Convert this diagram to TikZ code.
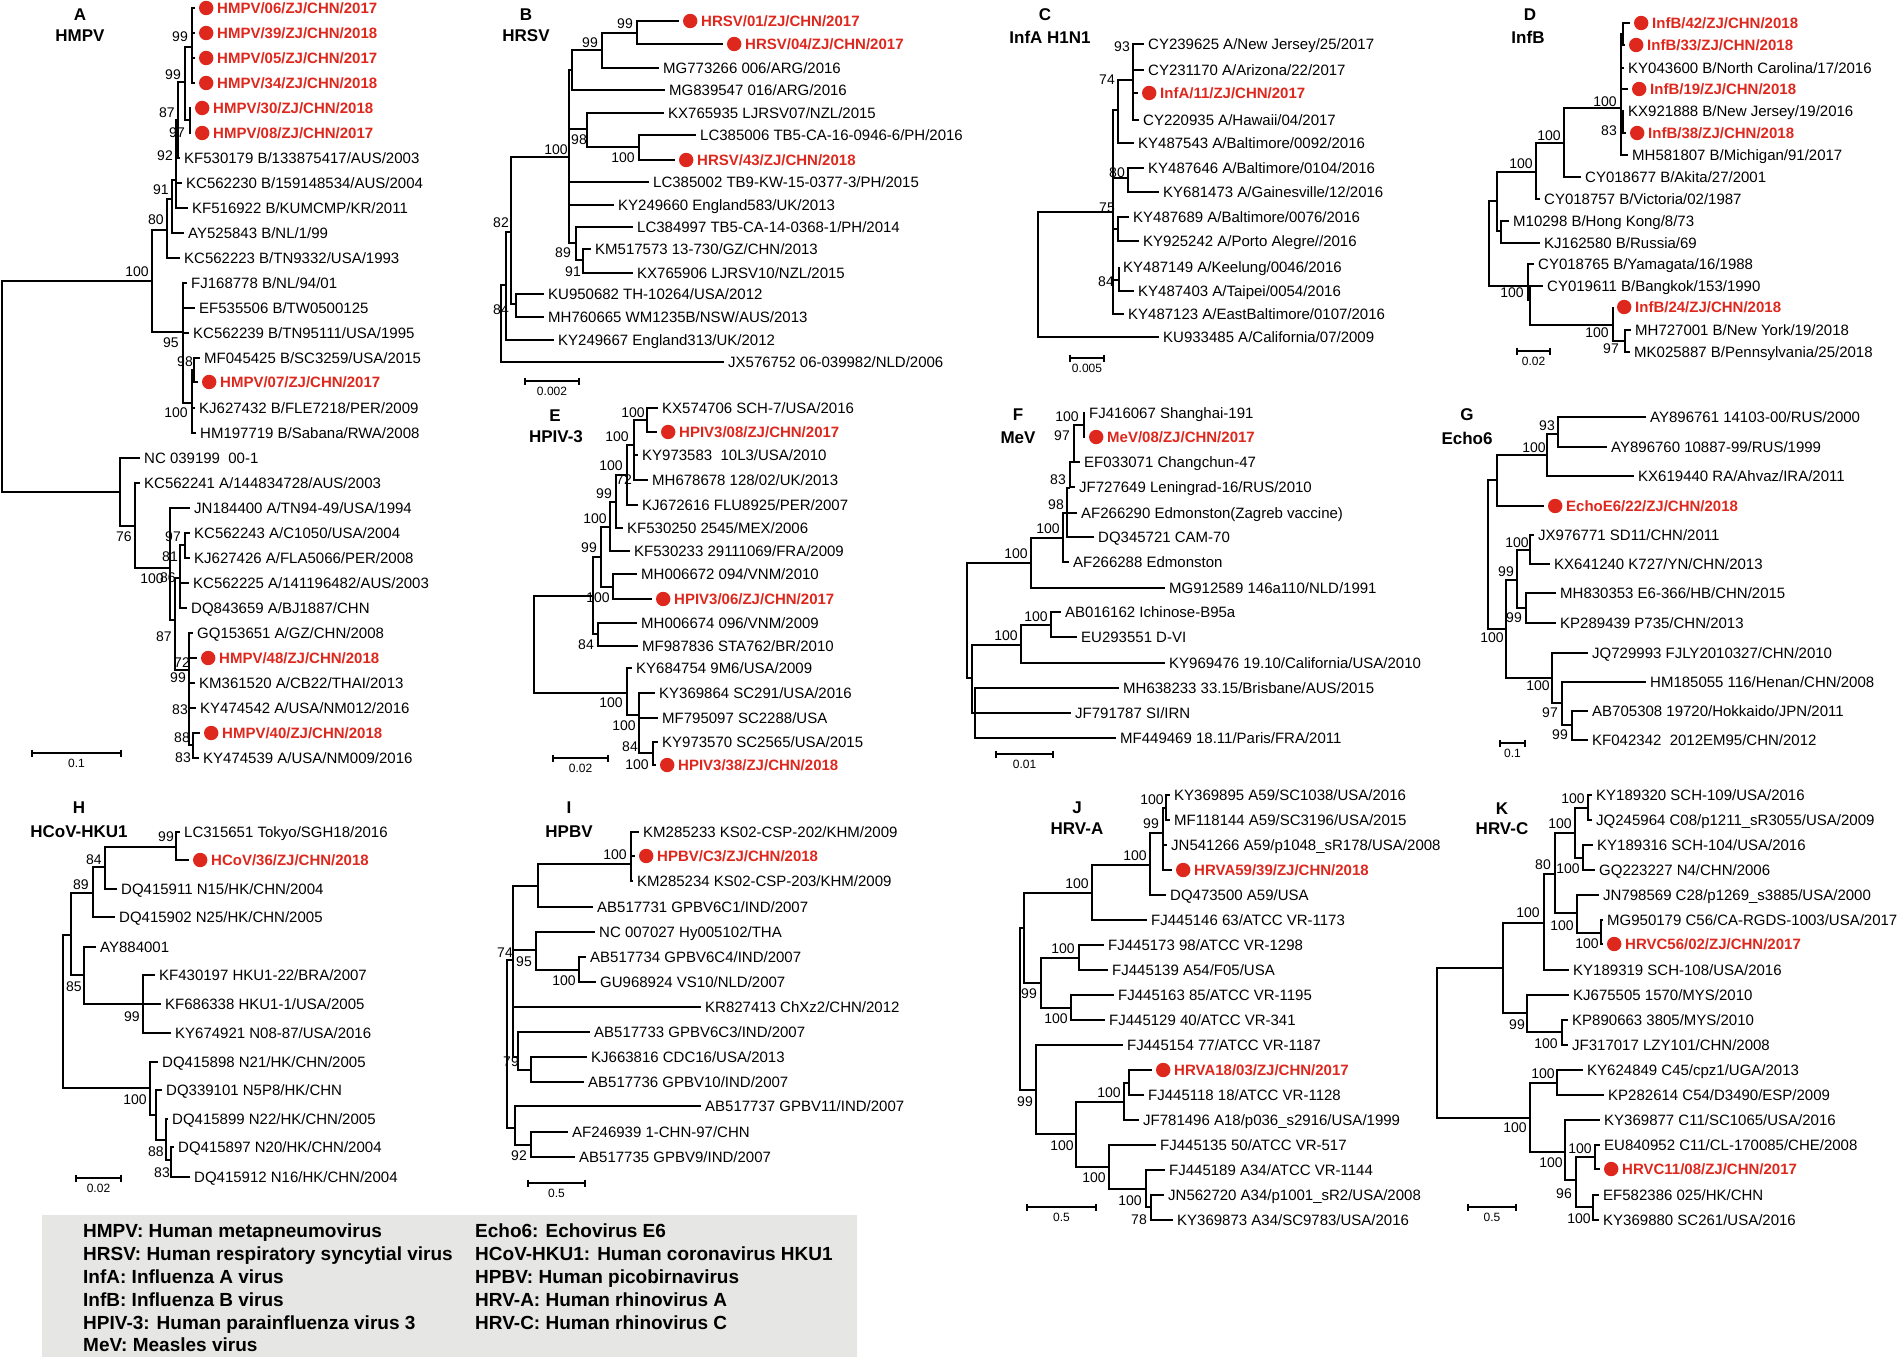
\documentclass[tikz,border=0pt]{standalone}
\usepackage{fontspec}
\setmainfont{Liberation Sans}
\usetikzlibrary{calc}
\definecolor{rd}{RGB}{222,40,30}
\definecolor{leggray}{RGB}{230,230,228}
\newcounter{bsc}
\tikzset{
 br/.style={line width=1.4pt},
 leaf/.style={anchor=west, inner xsep=4pt, inner ysep=0pt, text height=10.8pt, text depth=0pt, font=\fontsize{15}{18}\selectfont},
 rleaf/.style={leaf, text=rd, font=\fontsize{15}{18}\selectfont\bfseries},
 rdot/.style={fill=rd},
 bs/.style={inner sep=0pt, font=\fontsize{14}{16}\selectfont},
 ttl/.style={inner sep=0pt, font=\fontsize{17}{20}\selectfont\bfseries},
 sbar/.style={line width=1.2pt},
 sbl/.style={inner sep=0pt, font=\fontsize{12}{14}\selectfont},
 legt/.style={anchor=west, inner sep=0pt, text height=13.6pt, text depth=0pt, font=\fontsize{19}{22}\selectfont\bfseries},
}
\newcommand\Lf[3]{\node[leaf] (#1) at (#2) {#3};}
\newcommand\Rf[3]{\node[rleaf] (#1) at (#2) {\hspace*{18pt}#3};\fill[rdot] ([xshift=11.2pt]#1.west) circle (7.2pt);}
\newcommand\Cn[2]{\coordinate (#1) at (#2);}
\newcommand\Tr[2]{\foreach \ch in {#2}{\draw[br] (#1) |- (\ch);}}
\newcommand\Bs[2]{\stepcounter{bsc}\node[bs] (bs\arabic{bsc}) at (#1) {#2};}
\newcommand\SB[4]{\coordinate (#1l) at (#2);\coordinate (#1r) at (#3);
 \draw[sbar] ([yshift=3.5pt]#1l) -- ([yshift=-3.5pt]#1l) (#1l) -- (#1r) ([yshift=3.5pt]#1r) -- ([yshift=-3.5pt]#1r);
 \node[sbl] (#1t) at ($(#1l)!0.5!(#1r)+(0,10)$) {#4};}
\begin{document}
\begin{tikzpicture}[x=1pt,y=-1pt]
\fill[white] (0,0) rectangle (1900,1357);
\useasboundingbox (0,0) rectangle (1900,1357);

% ================= A
\node[ttl] (tA) at (80,15) {A};
\node[ttl] (tA2) at (80,36) {HMPV};
\Rf{a1}{195,8}{HMPV/06/ZJ/CHN/2017}
\Rf{a2}{195,33}{HMPV/39/ZJ/CHN/2018}
\Rf{a3}{195,58}{HMPV/05/ZJ/CHN/2017}
\Rf{a4}{195,83}{HMPV/34/ZJ/CHN/2018}
\Rf{a5}{191,108}{HMPV/30/ZJ/CHN/2018}
\Rf{a6}{191,133}{HMPV/08/ZJ/CHN/2017}
\Lf{a7}{180,158}{KF530179 B/133875417/AUS/2003}
\Lf{a8}{182,183}{KC562230 B/159148534/AUS/2004}
\Lf{a9}{188,208}{KF516922 B/KUMCMP/KR/2011}
\Lf{a10}{184,233}{AY525843 B/NL/1/99}
\Lf{a11}{180,258}{KC562223 B/TN9332/USA/1993}
\Lf{a12}{187,283}{FJ168778 B/NL/94/01}
\Lf{a13}{195,308}{EF535506 B/TW0500125}
\Lf{a14}{189,333}{KC562239 B/TN95111/USA/1995}
\Lf{a15}{200,358}{MF045425 B/SC3259/USA/2015}
\Rf{a16}{198,382}{HMPV/07/ZJ/CHN/2017}
\Lf{a17}{195,408}{KJ627432 B/FLE7218/PER/2009}
\Lf{a18}{196,433}{HM197719 B/Sabana/RWA/2008}
\Lf{a19}{140,458}{NC 039199\ \ 00-1}
\Lf{a20}{140,483}{KC562241 A/144834728/AUS/2003}
\Lf{a21}{190,508}{JN184400 A/TN94-49/USA/1994}
\Lf{a22}{190,533}{KC562243 A/C1050/USA/2004}
\Lf{a23}{190,558}{KJ627426 A/FLA5066/PER/2008}
\Lf{a24}{189,583}{KC562225 A/141196482/AUS/2003}
\Lf{a25}{187,608}{DQ843659 A/BJ1887/CHN}
\Lf{a26}{193,633}{GQ153651 A/GZ/CHN/2008}
\Rf{a27}{197,658}{HMPV/48/ZJ/CHN/2018}
\Lf{a28}{195,683}{KM361520 A/CB22/THAI/2013}
\Lf{a29}{196,708}{KY474542 A/USA/NM012/2016}
\Rf{a30}{200,733}{HMPV/40/ZJ/CHN/2018}
\Lf{a31}{199,758}{KY474539 A/USA/NM009/2016}
\Cn{aR}{2,386}\Cn{aU}{152,281}\Cn{a80}{167,230}\Cn{a91}{172,199}\Cn{a92}{176,180}
\Cn{a87}{178,120}\Cn{a99b}{185,82}\Cn{a99a}{192,47}\Cn{a97}{190,120}\Cn{a95}{183,332}
\Cn{a100b}{192,403}\Cn{a98}{194,370}\Cn{aL}{120,492}\Cn{aL2}{135,526}\Cn{aL3}{170,568}
\Cn{aX}{175,620}\Cn{a86}{180,578}\Cn{a97b}{185,545}\Cn{a72}{189,670}\Cn{a88}{193,745}
\Tr{aR}{aU,aL}\Tr{aU}{a80,a95}\Tr{a80}{a91,a11}\Tr{a91}{a92,a10}\Tr{a92}{a87,a8,a9}
\Tr{a87}{a99b,a7}\Tr{a99b}{a99a,a97}\Tr{a99a}{a1,a2,a3,a4}\Tr{a97}{a5,a6}
\Tr{a95}{a12,a13,a14,a100b}\Tr{a100b}{a98,a17,a18}\Tr{a98}{a15,a16}
\Tr{aL}{a19,aL2}\Tr{aL2}{a20,aL3}\Tr{aL3}{a21,aX}\Tr{aX}{a86,a72}
\Tr{a86}{a97b,a24,a25}\Tr{a97b}{a22,a23}\Tr{a72}{a26,a27,a28,a29,a88}\Tr{a88}{a30,a31}
\Bs{180,37}{99}\Bs{173,75}{99}\Bs{167,113}{87}\Bs{177,133}{97}\Bs{165,156}{92}
\Bs{161,190}{91}\Bs{156,220}{80}\Bs{137,272}{100}\Bs{171,343}{95}\Bs{185,362}{98}
\Bs{176,413}{100}\Bs{124,537}{76}\Bs{173,537}{97}\Bs{170,557}{81}\Bs{152,579}{100}
\Bs{168,578}{86}\Bs{164,637}{87}\Bs{182,663}{72}\Bs{178,678}{99}\Bs{180,710}{83}
\Bs{182,738}{88}\Bs{183,758}{83}
\SB{sA}{32,753}{121,753}{0.1}

% ================= B
\node[ttl] (tB) at (526,15) {B};
\node[ttl] (tB2) at (526,36) {HRSV};
\Rf{b1}{679,21}{HRSV/01/ZJ/CHN/2017}
\Rf{b2}{723,44}{HRSV/04/ZJ/CHN/2017}
\Lf{b3}{659,68}{MG773266 006/ARG/2016}
\Lf{b4}{665,90}{MG839547 016/ARG/2016}
\Lf{b5}{664,113}{KX765935 LJRSV07/NZL/2015}
\Lf{b6}{696,135}{LC385006 TB5-CA-16-0946-6/PH/2016}
\Rf{b7}{675,160}{HRSV/43/ZJ/CHN/2018}
\Lf{b8}{649,182}{LC385002 TB9-KW-15-0377-3/PH/2015}
\Lf{b9}{614,205}{KY249660 England583/UK/2013}
\Lf{b10}{633,227}{LC384997 TB5-CA-14-0368-1/PH/2014}
\Lf{b11}{591,249}{KM517573 13-730/GZ/CHN/2013}
\Lf{b12}{633,273}{KX765906 LJRSV10/NZL/2015}
\Lf{b13}{544,294}{KU950682 TH-10264/USA/2012}
\Lf{b14}{544,317}{MH760665 WM1235B/NSW/AUS/2013}
\Lf{b15}{554,340}{KY249667 England313/UK/2012}
\Lf{b16}{724,362}{JX576752 06-039982/NLD/2006}
\Cn{bR}{501,324}\Cn{b84}{506,285}\Cn{b82}{511,232}\Cn{bKU}{516,304}\Cn{b100}{569,157}
\Cn{bA}{572,70}\Cn{b99}{602,50}\Cn{b99a}{637,33}\Cn{b98}{587,129}\Cn{b100b}{639,147}
\Cn{b89}{576,243}\Cn{b91}{583,260}
\Tr{bR}{b84,b16}\Tr{b84}{b82,b15}\Tr{b82}{b100,bKU}\Tr{bKU}{b13,b14}
\Tr{b100}{bA,b98,b8,b9,b89}\Tr{bA}{b99,b4}\Tr{b99}{b99a,b3}\Tr{b99a}{b1,b2}
\Tr{b98}{b5,b100b}\Tr{b100b}{b6,b7}\Tr{b89}{b10,b91}\Tr{b91}{b11,b12}
\Bs{625,24}{99}\Bs{590,43}{99}\Bs{556,150}{100}\Bs{579,140}{98}\Bs{623,158}{100}
\Bs{563,253}{89}\Bs{573,272}{91}\Bs{501,223}{82}\Bs{501,310}{84}
\SB{sB}{525,381}{579,381}{0.002}

% ================= C
\node[ttl] (tC) at (1045,15) {C};
\node[ttl] (tC2) at (1050,37) {InfA H1N1};
\Lf{c1}{1144,44}{CY239625 A/New Jersey/25/2017}
\Lf{c2}{1144,70}{CY231170 A/Arizona/22/2017}
\Rf{c3}{1138,93}{InfA/11/ZJ/CHN/2017}
\Lf{c4}{1139,120}{CY220935 A/Hawaii/04/2017}
\Lf{c5}{1134,143}{KY487543 A/Baltimore/0092/2016}
\Lf{c6}{1144,168}{KY487646 A/Baltimore/0104/2016}
\Lf{c7}{1159,192}{KY681473 A/Gainesville/12/2016}
\Lf{c8}{1129,217}{KY487689 A/Baltimore/0076/2016}
\Lf{c9}{1139,241}{KY925242 A/Porto Alegre//2016}
\Lf{c10}{1119,267}{KY487149 A/Keelung/0046/2016}
\Lf{c11}{1134,291}{KY487403 A/Taipei/0054/2016}
\Lf{c12}{1124,314}{KY487123 A/EastBaltimore/0107/2016}
\Lf{c13}{1159,337}{KU933485 A/California/07/2009}
\Cn{cR}{1038,275}\Cn{cA}{1113,212}\Cn{c74}{1118,110}\Cn{c93}{1133,80}
\Cn{c80}{1128,178}\Cn{cB}{1118,229}\Cn{c84}{1119,280}
\Tr{cR}{cA,c13}\Tr{cA}{c74,c80,cB,c84,c12}\Tr{c74}{c93,c5}\Tr{c93}{c1,c2,c3,c4}
\Tr{c80}{c6,c7}\Tr{cB}{c8,c9}\Tr{c84}{c10,c11}
\Bs{1122,47}{93}\Bs{1107,80}{74}\Bs{1117,173}{80}\Bs{1107,208}{75}\Bs{1106,282}{84}
\SB{sC}{1070,358}{1104,358}{0.005}

% ================= D
\node[ttl] (tD) at (1530,15) {D};
\node[ttl] (tD2) at (1528,37) {InfB};
\Rf{d1}{1630,23}{InfB/42/ZJ/CHN/2018}
\Rf{d2}{1625,45}{InfB/33/ZJ/CHN/2018}
\Lf{d3}{1624,68}{KY043600 B/North Carolina/17/2016}
\Rf{d4}{1628,89}{InfB/19/ZJ/CHN/2018}
\Lf{d5}{1624,111}{KX921888 B/New Jersey/19/2016}
\Rf{d6}{1626,133}{InfB/38/ZJ/CHN/2018}
\Lf{d7}{1628,155}{MH581807 B/Michigan/91/2017}
\Lf{d8}{1581,177}{CY018677 B/Akita/27/2001}
\Lf{d9}{1540,199}{CY018757 B/Victoria/02/1987}
\Lf{d10}{1509,221}{M10298 B/Hong Kong/8/73}
\Lf{d11}{1540,243}{KJ162580 B/Russia/69}
\Lf{d12}{1534,264}{CY018765 B/Yamagata/16/1988}
\Lf{d13}{1543,286}{CY019611 B/Bangkok/153/1990}
\Rf{d14}{1613,307}{InfB/24/ZJ/CHN/2018}
\Lf{d15}{1631,330}{MH727001 B/New York/19/2018}
\Lf{d16}{1630,352}{MK025887 B/Pennsylvania/25/2018}
\Cn{dR}{1489,250}\Cn{dA}{1497,201}\Cn{dHK}{1501,231}\Cn{d100a}{1536,172}
\Cn{d100b}{1564,143}\Cn{d100c}{1621,108}\Cn{d1g}{1623,34}\Cn{d83}{1623,122}
\Cn{dB}{1528,286}\Cn{dB2}{1530,300}\Cn{d100d}{1613,325}\Cn{d97}{1625,341}
\Tr{dR}{dA,dB}\Tr{dA}{d100a,dHK}\Tr{dHK}{d10,d11}\Tr{d100a}{d100b,d9}
\Tr{d100b}{d100c,d8}\Tr{d100c}{d1g,d3,d4,d83,d7}\Tr{d1g}{d1,d2}\Tr{d83}{d5,d6}
\Tr{dB}{d12,dB2}\Tr{dB2}{d13,d100d}\Tr{d100d}{d14,d97}\Tr{d97}{d15,d16}
\Bs{1605,102}{100}\Bs{1609,131}{83}\Bs{1549,136}{100}\Bs{1521,164}{100}
\Bs{1512,293}{100}\Bs{1597,333}{100}\Bs{1611,349}{97}
\SB{sD}{1517,351}{1550,351}{0.02}

% ================= E
\node[ttl] (tE) at (555,416) {E};
\node[ttl] (tE2) at (556,437) {HPIV-3};
\Lf{e1}{658,408}{KX574706 SCH-7/USA/2016}
\Rf{e2}{657,432}{HPIV3/08/ZJ/CHN/2017}
\Lf{e3}{638,455}{KY973583\ \ 10L3/USA/2010}
\Lf{e4}{648,480}{MH678678 128/02/UK/2013}
\Lf{e5}{638,505}{KJ672616 FLU8925/PER/2007}
\Lf{e6}{623,528}{KF530250 2545/MEX/2006}
\Lf{e7}{630,551}{KF530233 29111069/FRA/2009}
\Lf{e8}{637,574}{MH006672 094/VNM/2010}
\Rf{e9}{652,599}{HPIV3/06/ZJ/CHN/2017}
\Lf{e10}{637,623}{MH006674 096/VNM/2009}
\Lf{e11}{638,646}{MF987836 STA762/BR/2010}
\Lf{e12}{632,668}{KY684754 9M6/USA/2009}
\Lf{e13}{655,693}{KY369864 SC291/USA/2016}
\Lf{e14}{658,718}{MF795097 SC2288/USA}
\Lf{e15}{658,742}{KY973570 SC2565/USA/2015}
\Rf{e16}{656,765}{HPIV3/38/ZJ/CHN/2018}
\Cn{eR}{534,645}\Cn{eA}{593,596}\Cn{eC}{601,557}\Cn{eD}{610,527}\Cn{eE}{616,502}
\Cn{eF}{627,475}\Cn{eG}{634,445}\Cn{eH}{647,420}\Cn{e100c}{613,587}\Cn{e84}{598,634}
\Cn{eB}{627,693}\Cn{eI}{639,715}\Cn{e84b}{653,753}
\Tr{eR}{eA,eB}\Tr{eA}{eC,e84}\Tr{eC}{eD,e100c}\Tr{eD}{eE,e7}\Tr{eE}{eF,e6}
\Tr{eF}{eG,e5}\Tr{eG}{eH,e3,e4}\Tr{eH}{e1,e2}\Tr{e100c}{e8,e9}\Tr{e84}{e10,e11}
\Tr{eB}{e12,eI}\Tr{eI}{e13,e14,e84b}\Tr{e84b}{e15,e16}
\Bs{633,413}{100}\Bs{617,437}{100}\Bs{611,466}{100}\Bs{624,480}{72}\Bs{604,494}{99}
\Bs{595,519}{100}\Bs{589,548}{99}\Bs{598,598}{100}\Bs{586,645}{84}\Bs{611,703}{100}
\Bs{624,726}{100}\Bs{630,747}{84}\Bs{637,765}{100}
\SB{sE}{553,758}{608,758}{0.02}

% ================= F
\node[ttl] (tF) at (1018,415) {F};
\node[ttl] (tF2) at (1018,438) {MeV};
\Lf{f1}{1085,413}{FJ416067 Shanghai-191}
\Rf{f2}{1085,437}{MeV/08/ZJ/CHN/2017}
\Lf{f3}{1080,462}{EF033071 Changchun-47}
\Lf{f4}{1075,487}{JF727649 Leningrad-16/RUS/2010}
\Lf{f5}{1077,513}{AF266290 Edmonston(Zagreb vaccine)}
\Lf{f6}{1094,537}{DQ345721 CAM-70}
\Lf{f7}{1069,562}{AF266288 Edmonston}
\Lf{f8}{1165,588}{MG912589 146a110/NLD/1991}
\Lf{f9}{1061,612}{AB016162 Ichinose-B95a}
\Lf{f10}{1077,637}{EU293551 D-VI}
\Lf{f11}{1165,663}{KY969476 19.10/California/USA/2010}
\Lf{f12}{1119,688}{MH638233 33.15/Brisbane/AUS/2015}
\Lf{f13}{1071,713}{JF791787 SI/IRN}
\Lf{f14}{1116,738}{MF449469 18.11/Paris/FRA/2011}
\Cn{fR}{967,620}\Cn{fA}{1031,563}\Cn{fC}{1063,538}\Cn{fD}{1067,513}\Cn{fE}{1070,488}
\Cn{fF}{1074,462}\Cn{f100}{1084,425}\Cn{fB}{972,678}\Cn{fG}{1021,645}\Cn{fI}{1051,625}
\Cn{fH}{975,713}
\Tr{fR}{fA,fB}\Tr{fA}{fC,f8}\Tr{fC}{fD,f7}\Tr{fD}{fE,f5,f6}\Tr{fE}{fF,f4}
\Tr{fF}{f100,f3}\Tr{f100}{f1,f2}\Tr{fB}{fG,f13,fH}\Tr{fG}{fI,f11}\Tr{fI}{f9,f10}
\Tr{fH}{f12,f14}
\Bs{1067,417}{100}\Bs{1062,436}{97}\Bs{1058,480}{83}\Bs{1056,505}{98}
\Bs{1048,529}{100}\Bs{1016,554}{100}\Bs{1036,617}{100}\Bs{1006,636}{100}
\SB{sF}{996,754}{1053,754}{0.01}

% ================= G
\node[ttl] (tG) at (1467,415) {G};
\node[ttl] (tG2) at (1467,438) {Echo6};
\Lf{g1}{1646,417}{AY896761 14103-00/RUS/2000}
\Lf{g2}{1607,447}{AY896760 10887-99/RUS/1999}
\Lf{g3}{1634,476}{KX619440 RA/Ahvaz/IRA/2011}
\Rf{g4}{1544,506}{EchoE6/22/ZJ/CHN/2018}
\Lf{g5}{1534,535}{JX976771 SD11/CHN/2011}
\Lf{g6}{1550,564}{KX641240 K727/YN/CHN/2013}
\Lf{g7}{1556,593}{MH830353 E6-366/HB/CHN/2015}
\Lf{g8}{1556,623}{KP289439 P735/CHN/2013}
\Lf{g9}{1588,653}{JQ729993 FJLY2010327/CHN/2010}
\Lf{g10}{1646,682}{HM185055 116/Henan/CHN/2008}
\Lf{g11}{1588,711}{AB705308 19720/Hokkaido/JPN/2011}
\Lf{g12}{1588,740}{KF042342\ \ 2012EM95/CHN/2012}
\Cn{gR}{1488,555}\Cn{gA}{1497,480}\Cn{gC}{1547,455}\Cn{g93}{1558,434}\Cn{gB}{1506,629}
\Cn{gD}{1517,580}\Cn{gF}{1530,550}\Cn{gG}{1526,608}\Cn{gE}{1552,678}\Cn{gH}{1562,703}
\Cn{gI}{1572,725}
\Tr{gR}{gA,gB}\Tr{gA}{gC,g4}\Tr{gC}{g93,g3}\Tr{g93}{g1,g2}\Tr{gB}{gD,gE}
\Tr{gD}{gF,gG}\Tr{gF}{g5,g6}\Tr{gG}{g7,g8}\Tr{gE}{g9,gH}\Tr{gH}{g10,gI}\Tr{gI}{g11,g12}
\Bs{1547,426}{93}\Bs{1534,448}{100}\Bs{1517,543}{100}\Bs{1506,572}{99}\Bs{1514,618}{99}
\Bs{1492,638}{100}\Bs{1538,686}{100}\Bs{1550,713}{97}\Bs{1560,735}{99}
\SB{sG}{1500,743}{1525,743}{0.1}

% ================= H
\node[ttl] (tH) at (79,808) {H};
\node[ttl] (tH2) at (79,832) {HCoV-HKU1};
\Lf{h1}{180,832}{LC315651 Tokyo/SGH18/2016}
\Rf{h2}{189,860}{HCoV/36/ZJ/CHN/2018}
\Lf{h3}{117,889}{DQ415911 N15/HK/CHN/2004}
\Lf{h4}{115,917}{DQ415902 N25/HK/CHN/2005}
\Lf{h5}{96,947}{AY884001}
\Lf{h6}{155,975}{KF430197 HKU1-22/BRA/2007}
\Lf{h7}{161,1004}{KF686338 HKU1-1/USA/2005}
\Lf{h8}{171,1033}{KY674921 N08-87/USA/2016}
\Lf{h9}{158,1062}{DQ415898 N21/HK/CHN/2005}
\Lf{h10}{162,1090}{DQ339101 N5P8/HK/CHN}
\Lf{h11}{168,1119}{DQ415899 N22/HK/CHN/2005}
\Lf{h12}{174,1147}{DQ415897 N20/HK/CHN/2004}
\Lf{h13}{190,1177}{DQ415912 N16/HK/CHN/2004}
\Cn{hR}{63,1010}\Cn{hA}{71,935}\Cn{h89}{93,893}\Cn{h84}{105,867}\Cn{h99}{176,847}
\Cn{h85}{84,975}\Cn{h99b}{143,1004}\Cn{hB}{150,1088}\Cn{hC}{156,1115}\Cn{h88}{166,1140}
\Cn{h83}{171,1160}
\Tr{hR}{hA,hB}\Tr{hA}{h89,h85}\Tr{h89}{h84,h4}\Tr{h84}{h99,h3}\Tr{h99}{h1,h2}
\Tr{h85}{h5,h99b}\Tr{h99b}{h6,h7,h8}\Tr{hB}{h9,hC}\Tr{hC}{h10,h88}\Tr{h88}{h11,h83}
\Tr{h83}{h12,h13}
\Bs{166,837}{99}\Bs{94,860}{84}\Bs{81,885}{89}\Bs{74,987}{85}\Bs{132,1017}{99}
\Bs{135,1100}{100}\Bs{156,1152}{88}\Bs{162,1173}{83}
\SB{sH}{76,1178}{121,1178}{0.02}

% ================= I
\node[ttl] (tI) at (569,808) {I};
\node[ttl] (tI2) at (569,832) {HPBV};
\Lf{i1}{639,832}{KM285233 KS02-CSP-202/KHM/2009}
\Rf{i2}{635,856}{HPBV/C3/ZJ/CHN/2018}
\Lf{i3}{633,881}{KM285234 KS02-CSP-203/KHM/2009}
\Lf{i4}{593,907}{AB517731 GPBV6C1/IND/2007}
\Lf{i5}{595,932}{NC 007027 Hy005102/THA}
\Lf{i6}{586,957}{AB517734 GPBV6C4/IND/2007}
\Lf{i7}{596,982}{GU968924 VS10/NLD/2007}
\Lf{i8}{701,1007}{KR827413 ChXz2/CHN/2012}
\Lf{i9}{590,1032}{AB517733 GPBV6C3/IND/2007}
\Lf{i10}{587,1057}{KJ663816 CDC16/USA/2013}
\Lf{i11}{584,1082}{AB517736 GPBV10/IND/2007}
\Lf{i12}{701,1106}{AB517737 GPBV11/IND/2007}
\Lf{i13}{568,1132}{AF246939 1-CHN-97/CHN}
\Lf{i14}{575,1157}{AB517735 GPBV9/IND/2007}
\Cn{iR}{507,1070}\Cn{iT}{513,960}\Cn{iD}{538,886}\Cn{i100}{631,864}\Cn{i95}{536,950}
\Cn{iE}{579,970}\Cn{i79}{518,1057}\Cn{iF}{531,1070}\Cn{iB}{515,1128}\Cn{iG}{531,1145}
\Tr{iR}{iT,iB}\Tr{iT}{iD,i95,i8,i79}\Tr{iD}{i100,i4}\Tr{i100}{i1,i2,i3}
\Tr{i95}{i5,iE}\Tr{iE}{i6,i7}\Tr{i79}{i9,iF}\Tr{iF}{i10,i11}\Tr{iB}{i12,iG}\Tr{iG}{i13,i14}
\Bs{615,855}{100}\Bs{505,953}{74}\Bs{524,962}{95}\Bs{564,981}{100}\Bs{511,1062}{79}
\Bs{519,1156}{92}
\SB{sI}{528,1183}{585,1183}{0.5}

% ================= J
\node[ttl] (tJ) at (1077,808) {J};
\node[ttl] (tJ2) at (1077,829) {HRV-A};
\Lf{j1}{1170,795}{KY369895 A59/SC1038/USA/2016}
\Lf{j2}{1170,820}{MF118144 A59/SC3196/USA/2015}
\Lf{j3}{1167,845}{JN541266 A59/p1048\_sR178/USA/2008}
\Rf{j4}{1172,870}{HRVA59/39/ZJ/CHN/2018}
\Lf{j5}{1166,895}{DQ473500 A59/USA}
\Lf{j6}{1147,920}{FJ445146 63/ATCC VR-1173}
\Lf{j7}{1104,945}{FJ445173 98/ATCC VR-1298}
\Lf{j8}{1108,970}{FJ445139 A54/F05/USA}
\Lf{j9}{1114,995}{FJ445163 85/ATCC VR-1195}
\Lf{j10}{1105,1020}{FJ445129 40/ATCC VR-341}
\Lf{j11}{1123,1045}{FJ445154 77/ATCC VR-1187}
\Rf{j12}{1152,1070}{HRVA18/03/ZJ/CHN/2017}
\Lf{j13}{1144,1095}{FJ445118 18/ATCC VR-1128}
\Lf{j14}{1139,1120}{JF781496 A18/p036\_s2916/USA/1999}
\Lf{j15}{1156,1145}{FJ445135 50/ATCC VR-517}
\Lf{j16}{1165,1170}{FJ445189 A34/ATCC VR-1144}
\Lf{j17}{1164,1195}{JN562720 A34/p1001\_sR2/USA/2008}
\Lf{j18}{1173,1220}{KY369873 A34/SC9783/USA/2016}
\Cn{jR}{1020,1010}\Cn{jS}{1024,928}\Cn{jV}{1092,893}\Cn{jW}{1150,865}\Cn{jX}{1163,833}
\Cn{jY}{1166,808}\Cn{jU}{1041,983}\Cn{jZ}{1079,958}\Cn{j100c}{1071,1008}\Cn{jL}{1036,1090}
\Cn{jM}{1076,1134}\Cn{jN}{1124,1102}\Cn{jP}{1129,1083}\Cn{jO}{1109,1167}\Cn{jQ}{1146,1189}
\Cn{jQ2}{1151,1207}
\Tr{jR}{jS,jL}\Tr{jS}{jV,jU}\Tr{jV}{jW,j6}\Tr{jW}{jX,j5}\Tr{jX}{jY,j3,j4}\Tr{jY}{j1,j2}
\Tr{jU}{jZ,j100c}\Tr{jZ}{j7,j8}\Tr{j100c}{j9,j10}\Tr{jL}{j11,jM}\Tr{jM}{jN,jO}
\Tr{jN}{jP,j14}\Tr{jP}{j12,j13}\Tr{jO}{j15,jQ}\Tr{jQ}{j16,jQ2}\Tr{jQ2}{j17,j18}
\Bs{1152,800}{100}\Bs{1151,824}{99}\Bs{1135,856}{100}\Bs{1077,884}{100}\Bs{1063,949}{100}
\Bs{1029,994}{99}\Bs{1056,1019}{100}\Bs{1109,1093}{100}\Bs{1025,1102}{99}
\Bs{1062,1146}{100}\Bs{1094,1178}{100}\Bs{1130,1201}{100}\Bs{1139,1220}{78}
\SB{sJ}{1027,1207}{1096,1207}{0.5}

% ================= K
\node[ttl] (tK) at (1502,809) {K};
\node[ttl] (tK2) at (1502,829) {HRV-C};
\Lf{k1}{1592,795}{KY189320 SCH-109/USA/2016}
\Lf{k2}{1592,820}{JQ245964 C08/p1211\_sR3055/USA/2009}
\Lf{k3}{1593,845}{KY189316 SCH-104/USA/2016}
\Lf{k4}{1595,870}{GQ223227 N4/CHN/2006}
\Lf{k5}{1599,895}{JN798569 C28/p1269\_s3885/USA/2000}
\Lf{k6}{1603,920}{MG950179 C56/CA-RGDS-1003/USA/2017}
\Rf{k7}{1603,944}{HRVC56/02/ZJ/CHN/2017}
\Lf{k8}{1569,970}{KY189319 SCH-108/USA/2016}
\Lf{k9}{1569,995}{KJ675505 1570/MYS/2010}
\Lf{k10}{1568,1020}{KP890663 3805/MYS/2010}
\Lf{k11}{1568,1045}{JF317017 LZY101/CHN/2008}
\Lf{k12}{1583,1070}{KY624849 C45/cpz1/UGA/2013}
\Lf{k13}{1604,1095}{KP282614 C54/D3490/ESP/2009}
\Lf{k14}{1600,1120}{KY369877 C11/SC1065/USA/2016}
\Lf{k15}{1600,1145}{EU840952 C11/CL-170085/CHE/2008}
\Rf{k16}{1600,1169}{HRVC11/08/ZJ/CHN/2017}
\Lf{k17}{1599,1195}{EF582386 025/HK/CHN}
\Lf{k18}{1599,1220}{KY369880 SC261/USA/2016}
\Cn{kR}{1437,1043}\Cn{kA}{1503,968}\Cn{kC}{1544,923}\Cn{kD}{1555,874}\Cn{kE}{1575,833}
\Cn{kG}{1588,808}\Cn{kH}{1583,858}\Cn{kF}{1577,913}\Cn{kI}{1601,933}\Cn{k99}{1527,1013}
\Cn{kJ}{1562,1032}\Cn{kB}{1530,1118}\Cn{kK}{1557,1083}\Cn{kL}{1565,1152}\Cn{kM}{1576,1180}
\Cn{kN}{1595,1157}\Cn{kO}{1593,1207}
\Tr{kR}{kA,kB}\Tr{kA}{kC,k99}\Tr{kC}{kD,k8}\Tr{kD}{kE,kF}\Tr{kE}{kG,kH}\Tr{kG}{k1,k2}
\Tr{kH}{k3,k4}\Tr{kF}{k5,kI}\Tr{kI}{k6,k7}\Tr{k99}{k9,kJ}\Tr{kJ}{k10,k11}
\Tr{kB}{kK,kL}\Tr{kK}{k12,k13}\Tr{kL}{k14,kM}\Tr{kM}{kN,kO}\Tr{kN}{k15,k16}\Tr{kO}{k17,k18}
\Bs{1573,799}{100}\Bs{1560,824}{100}\Bs{1543,865}{80}\Bs{1568,869}{100}\Bs{1528,913}{100}
\Bs{1562,926}{100}\Bs{1587,944}{100}\Bs{1517,1025}{99}\Bs{1546,1044}{100}
\Bs{1543,1074}{100}\Bs{1515,1128}{100}\Bs{1580,1149}{100}\Bs{1551,1163}{100}
\Bs{1564,1194}{96}\Bs{1579,1219}{100}
\SB{sK}{1468,1207}{1516,1207}{0.5}

% ================= legend
\node[fill=leggray, anchor=north west, inner sep=0pt, minimum width=815pt, minimum height=142pt] (legbox) at (42,1215) {};
\node[legt] (l1) at (83,1231) {HMPV: Human metapneumovirus};
\node[legt] (l2) at (83,1254) {HRSV: Human respiratory syncytial virus};
\node[legt] (l3) at (83,1277) {InfA: Influenza A virus};
\node[legt] (l4) at (83,1300) {InfB: Influenza B virus};
\node[legt] (l5) at (83,1323) {HPIV-3: Human parainfluenza virus 3};
\node[legt] (l6) at (83,1345) {MeV: Measles virus};
\node[legt] (l7) at (475,1231) {Echo6: Echovirus E6};
\node[legt] (l8) at (475,1254) {HCoV-HKU1: Human coronavirus HKU1};
\node[legt] (l9) at (475,1277) {HPBV: Human picobirnavirus};
\node[legt] (l10) at (475,1300) {HRV-A: Human rhinovirus A};
\node[legt] (l11) at (475,1323) {HRV-C: Human rhinovirus C};
\end{tikzpicture}
\end{document}
